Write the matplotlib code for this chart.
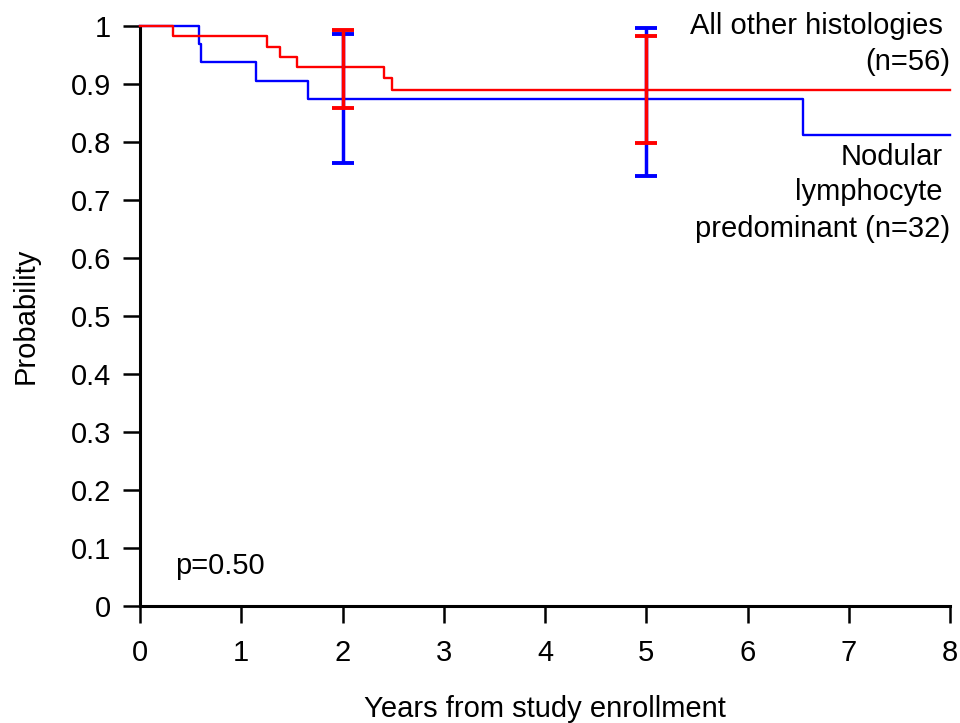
import matplotlib
matplotlib.use("Agg")
import matplotlib.pyplot as plt

plt.rcParams['font.family'] = ['Liberation Sans', 'DejaVu Sans']

# Kaplan-Meier step data
red_times = [0, 0.33, 1.25, 1.38, 1.55, 2.41, 2.49, 8]
red_surv = [1.0, 0.982, 0.964, 0.946, 0.929, 0.910, 0.890, 0.890]
blue_times = [0, 0.586, 0.605, 1.15, 1.66, 6.55, 8]
blue_surv = [1.0, 0.969, 0.9375, 0.906, 0.875, 0.812, 0.812]

# Confidence intervals at 2 and 5 years
ci_x = [2, 5]
red_est = [0.929, 0.890]
red_lo = [0.858, 0.799]
red_hi = [0.993, 0.982]
blue_est = [0.875, 0.875]
blue_lo = [0.763, 0.742]
blue_hi = [0.987, 0.996]

x_ticks = [0, 1, 2, 3, 4, 5, 6, 7, 8]
y_ticks = [0, 0.1, 0.2, 0.3, 0.4, 0.5, 0.6, 0.7, 0.8, 0.9, 1.0]
y_labels = ['0', '0.1', '0.2', '0.3', '0.4', '0.5', '0.6', '0.7', '0.8', '0.9', '1']

FS = 21

fig = plt.figure(figsize=(9.6, 7.23), dpi=100)
ax = fig.add_axes([140/960, 1-606/723, 810/960, 580/723])

ax.step(blue_times, blue_surv, where='post', color='#0000ff', lw=1.7, clip_on=False, zorder=2)
ax.step(red_times, red_surv, where='post', color='#ff0000', lw=1.7, clip_on=False, zorder=3)

ax.errorbar(ci_x, blue_est,
            yerr=[[e - l for e, l in zip(blue_est, blue_lo)], [h - e for e, h in zip(blue_est, blue_hi)]],
            fmt='none', ecolor='#0000ff', elinewidth=2.5, capsize=8, capthick=2.8, clip_on=False, zorder=4)
ax.errorbar(ci_x, red_est,
            yerr=[[e - l for e, l in zip(red_est, red_lo)], [h - e for e, h in zip(red_est, red_hi)]],
            fmt='none', ecolor='#ff0000', elinewidth=2.5, capsize=8, capthick=2.8, clip_on=False, zorder=5)

ax.set_xlim(0, 8)
ax.set_ylim(0, 1)
ax.set_xticks(x_ticks)
ax.set_yticks(y_ticks)
ax.set_yticklabels(y_labels)
for s in ['top', 'right']:
    ax.spines[s].set_visible(False)
for s in ['left', 'bottom']:
    ax.spines[s].set_linewidth(2.2)
ax.tick_params(axis='both', direction='out', length=12, width=1.8, labelsize=FS)
ax.tick_params(axis='x', pad=12)
ax.tick_params(axis='y', pad=9)

ax.set_xlabel('Years from study enrollment', fontsize=FS, labelpad=20)
ax.set_ylabel('Probability', fontsize=FS, labelpad=22)

ax.text(0.35, 0.069, 'p=0.50', fontsize=FS, ha='left', va='center')

xr = 7.93
ax.text(xr, 1.0, 'All other histologies', fontsize=FS, ha='right', va='center')
ax.text(8.0, 0.938, '(n=56)', fontsize=FS, ha='right', va='center')
ax.text(xr, 0.774, 'Nodular', fontsize=FS, ha='right', va='center')
ax.text(xr, 0.713, 'lymphocyte', fontsize=FS, ha='right', va='center')
ax.text(8.0, 0.650, 'predominant (n=32)', fontsize=FS, ha='right', va='center')

fig.savefig('out.png', dpi=100)
